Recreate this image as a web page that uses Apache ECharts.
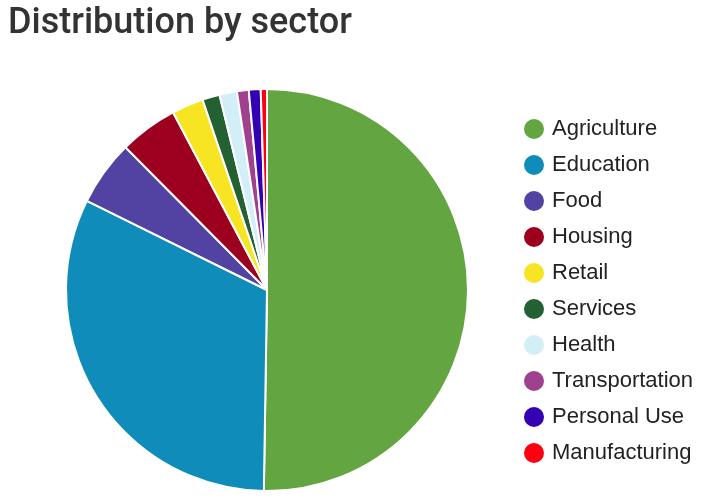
<!DOCTYPE html>
<html><head><meta charset="utf-8">
<script src="https://cdn.jsdelivr.net/npm/echarts@6/dist/echarts.min.js"></script>
<style>html,body{margin:0;padding:0;background:#fff}#c{width:708px;height:501px}</style>
</head><body><div id="c"></div>
<script>
const categories = ["Agriculture","Education","Food","Housing","Retail","Services","Health","Transportation","Personal Use","Manufacturing"];
const values = [50.3, 32.1, 5.25, 4.7, 2.55, 1.4, 1.4, 0.95, 0.95, 0.5];
const colors = ["#63a540","#0f8cba","#5243a3","#9c001e","#f7e423","#236032","#d2eef7","#a0418f","#3300b3","#ff0010"];

const chart = echarts.init(document.getElementById('c'));
chart.setOption({
  animation: false,
  title: {
    text: "Distribution by sector",
    left: 3, top: 1,
    textStyle: {fontFamily: "Roboto", fontWeight: 500, fontSize: 36, color: "#333"}
  },
  legend: {
    orient: "vertical",
    left: 517, top: 112,
    icon: "circle",
    itemWidth: 24, itemHeight: 22, itemGap: 12,
    textStyle: {fontFamily: "Liberation Sans", fontSize: 22, lineHeight: 22, color: "#222", padding: [0,0,0,1]},
    data: categories
  },
  series: [{
    type: "pie",
    center: [267, 290],
    radius: 201,
    startAngle: 90,
    clockwise: true,
    label: {show: false},
    labelLine: {show: false},
    itemStyle: {borderColor: "#fff", borderWidth: 2},
    emphasis: {disabled: true},
    data: categories.map((c,i)=>({name:c, value:values[i], itemStyle:{color:colors[i]}}))
  }]
});
</script></body></html>
